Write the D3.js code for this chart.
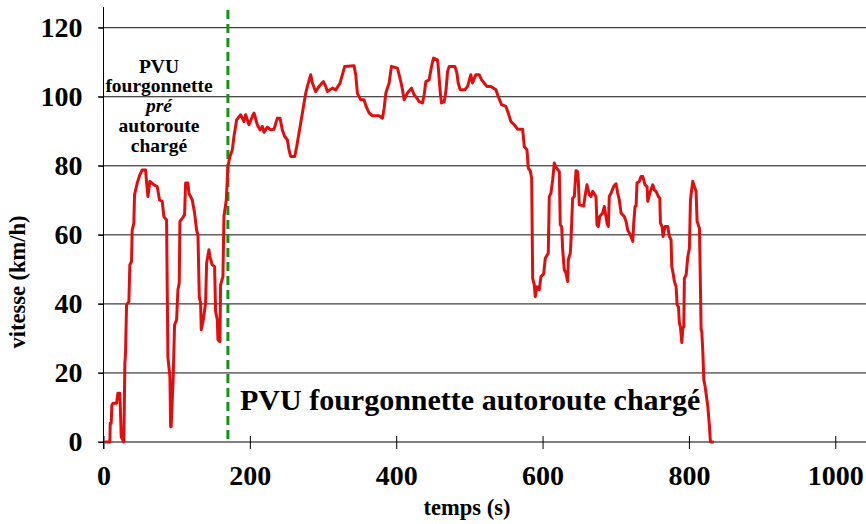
<!DOCTYPE html>
<html>
<head>
<meta charset="utf-8">
<script src="https://cdn.jsdelivr.net/npm/d3@7"></script>
<style>
  html, body { margin: 0; padding: 0; background: #fff; }
</style>
</head>
<body>
<svg id="chart" width="866" height="524"></svg>
<script>
// ---- data ----
const time = [2,8.7,9.2,10.5,11.5,13,17.8,19.6,22.3,23.3,24.2,27.8,29.2,30.1,31.5,34.7,36,38.3,39.2,41.5,42.4,46.1,49.7,52.9,57.5,58.4,60.7,63.4,68.9,73.4,76.6,80.3,82.5,86.2,88,90.8,91.7,92.5,95.3,97.1,99.9,101.7,103.5,104.4,107.6,110.8,112.2,115.4,116.7,121.3,124.5,127.2,129.1,130.9,132.7,133.6,136.4,139.5,140.9,144.1,145.4,148.6,151.8,153.2,155.5,156.4,159.1,160,163.2,164.6,167.8,170,
172.8,176,178.3,181.9,187.4,192,194.3,198.8,203.4,205.7,210.2,213.9,217.1,219.3,223.9,228.5,233,237.6,241.2,244.4,247.6,251.3,253.5,255.8,261.3,264,267.2,271.8,276.3,278.6,283.2,285.4,290,294.5,300.5,303.7,306,312.8,317.4,323.3,326.5,329.7,342.4,344.7,347,351.6,356.1,358.9,363,367.5,376.6,381.2,383.5,385.8,390.3,393.5,401.7,406.3,
408.6,410.8,415.4,420.9,424.5,428.2,431.4,435.9,438.2,440.5,445,448.3,451,456.5,457.8,460.1,461.9,465.6,467.9,470.2,472.4,480.2,482.9,484.7,487.5,493.8,497.5,502,504.3,508.9,513.4,516.7,520.2,523.9,529.4,536.3,539.4,544,549.9,553.1,556.8,561.3,565.9,572.8,
575,578.7,580.5,583.2,585.1,586.5,588.7,590,592.3,595.5,597.8,601.5,603.7,607.8,609.2,611.5,613.8,615.2,616,618.3,622.9,624.2,626.1,627.5,629.7,632,634.3,635.2,637.9,638.8,641.1,643.4,645.7,648,648.9,650.2,656.2,658,660.7,663.9,666.2,668.5,673,674.4,676.2,678.1,682.2,684.4,688.1,689.9,691.2,693.6,697.2,700.4,702.7,704.9,707.3,711.8,714.1,716.4,720,723.3,724.6,726.4,727.8,729.1,732.3,734.6,
736.9,740.1,742.8,743.8,746,747.4,750.6,752.8,755.1,758.3,760.2,761.1,763.3,764.7,767.4,771.1,773.3,775.6,776.6,778.4,780.2,782.5,783.9,785.7,787,788.4,790.3,791.7,793,793.8,796.2,798.5,800.7,802.1,804,805.3,807.5,809.8,811.2,814.4,816.7,817.6,819,820.4,822.2,825.9,828.1,829.4,834];

const speed = [0,0,5.4,5.4,10.7,11.2,11.2,14.1,14.1,8.3,1.5,0,22.8,25.7,39.7,40.7,51.3,52.3,61.4,63.4,71.6,75,77.4,78.8,78.8,76.4,71.1,75.5,74.5,74,70.1,69.7,65.3,64.3,24.7,18.9,4.4,4.4,18.9,33.9,35.4,44.1,46,63.9,64.8,65.8,75,75,72.1,70.1,66.3,61.4,60,42.1,40.2,32.5,35.4,40.2,51.8,55.7,53.7,51.3,50.8,37.8,35.4,29.6,29.1,45.5,47.9,65.3,70.1,79.8,
82.7,84.6,88.5,93.3,94.8,92.8,94.8,91.9,94.3,95.3,91.9,90.4,91.4,89.7,91.2,90.4,90.6,93.8,93.8,90.4,88.5,87.5,84.6,82.7,82.7,85.6,89.5,95.3,101,103,106.4,104,101.5,103,104.4,103,101.5,102.5,102,104,106.4,108.8,109,106.4,101,99.1,99.1,97.2,95.3,94.5,94.5,93.8,96.7,101,104,108.8,108.3,104.4,
102,99.1,101.1,102.5,100.6,99.6,98.6,98.2,100.6,104.4,104.9,108.8,111.2,110.7,107.8,101.5,98.2,98.6,101.5,107.3,108.8,108.8,106.9,104,102,102,103,106.4,104,106.4,106.4,104.9,104,103,103,102,100.1,97.7,97.2,95.3,92.8,91.9,90.6,90.6,
85.6,84.6,79.3,78.6,76.4,47.4,45.5,42.1,45,44.1,47.9,48.7,53.2,54.7,71.1,72.1,75.9,78.8,80.8,79.6,78.3,62.9,62.4,55.7,49.9,48.9,46.5,52.8,54.7,58.1,70.6,71.1,78.6,78.3,75.5,68.7,68.4,71.1,74.5,71.6,71.1,72.6,71.1,62.9,62.4,65.3,66.3,68.2,63.4,62.4,71.1,72.1,74,74.8,72.1,70.1,66.3,65.3,63.9,61.4,60,58.1,63.4,68.2,68.4,75,75.5,76.9,
76.9,74.5,74,69.7,71.6,72.6,74.5,73,72.6,71.1,70.6,63.4,62.4,59.5,62.4,62.4,59.5,58.6,50.8,48.9,46.5,45,39.7,39.2,34.4,33.4,28.8,33,33.4,47.4,48.4,53.7,56.1,70.1,73.5,75.5,74,72.6,63.9,61.9,32.5,32,26.2,18,16,10.2,4.4,0,0];

const xTicks = [0, 200, 400, 600, 800, 1000];
const yTicks = [0, 20, 40, 60, 80, 100, 120];
const markerTime = 170;
const leftNote = ["PVU", "fourgonnette", "pré", "autoroute", "chargé"];
const mainNote = "PVU fourgonnette autoroute chargé";
const xTitle = "temps (s)";
const yTitle = "vitesse (km/h)";

const FONT = '"Liberation Serif"';

// ---- chart ----
const svg = d3.select("#chart");
const x = d3.scaleLinear().domain([0, 1042]).range([103.5, 866]);
const y = d3.scaleLinear().domain([0, 126]).range([442, 7]);

// gridlines
svg.append("g").selectAll("line")
  .data(yTicks.filter(d => d > 0))
  .join("line")
  .attr("x1", 98).attr("x2", 866)
  .attr("y1", d => y(d)).attr("y2", d => y(d))
  .attr("stroke", "#111").attr("stroke-width", 1);

// y axis
const yAxis = svg.append("g")
  .attr("transform", `translate(${x(0)},0)`)
  .call(d3.axisLeft(y).tickValues(yTicks).tickSize(5).tickPadding(16).tickFormat(d3.format("d")));
yAxis.attr("font-family", FONT).attr("font-size", 28).attr("font-weight", "bold");
yAxis.select(".domain").attr("d", `M0,${y(126)}V${y(0) + 7}`).attr("stroke", "#000");
yAxis.selectAll("text").attr("font-family", FONT).attr("fill", "#000");

// x axis
const xAxis = svg.append("g")
  .attr("transform", `translate(0,${y(0)})`)
  .call(d3.axisBottom(x).tickValues(xTicks).tickSize(7).tickPadding(16).tickFormat(d3.format("d")));
xAxis.attr("font-family", FONT).attr("font-size", 28).attr("font-weight", "bold");
xAxis.select(".domain").attr("d", `M98,0H866`).attr("stroke", "#000");
xAxis.selectAll(".tick line").attr("y1", -6);
xAxis.selectAll("text").attr("font-family", FONT).attr("fill", "#000").attr("dy", "0.71em");
svg.selectAll(".tick line").attr("stroke", "#000");

// green dashed marker
svg.append("line")
  .attr("x1", x(markerTime)).attr("x2", x(markerTime))
  .attr("y1", 10).attr("y2", y(0))
  .attr("stroke", "#1a8f1a").attr("stroke-width", 3)
  .attr("stroke-dasharray", "9,5");

// speed trace
const pts = time.map((t, i) => [t, speed[i]]);
svg.append("path")
  .datum(pts)
  .attr("fill", "none")
  .attr("stroke", "#e00f0f")
  .attr("stroke-width", 3)
  .attr("stroke-linejoin", "round")
  .attr("d", d3.line().x(d => x(d[0])).y(d => y(d[1])));

// left note
const noteY = [73, 92, 112, 131.5, 151.5];
svg.append("g").selectAll("text")
  .data(leftNote)
  .join("text")
  .attr("x", 159).attr("y", (d, i) => noteY[i])
  .attr("text-anchor", "middle")
  .attr("font-family", FONT).attr("font-weight", "bold")
  .attr("font-size", 19.5)
  .attr("font-style", (d, i) => i === 2 ? "italic" : "normal")
  .text(d => d);

// main note
svg.append("text")
  .attr("x", 240).attr("y", 410)
  .attr("font-family", FONT).attr("font-weight", "bold")
  .attr("font-size", 30)
  .text(mainNote);

// axis titles
svg.append("text")
  .attr("x", 467).attr("y", 515)
  .attr("text-anchor", "middle")
  .attr("font-family", FONT).attr("font-weight", "bold")
  .attr("font-size", 22.5)
  .text(xTitle);
svg.append("text")
  .attr("transform", "translate(25,282) rotate(-90)")
  .attr("text-anchor", "middle")
  .attr("font-family", FONT).attr("font-weight", "bold")
  .attr("font-size", 22.5)
  .text(yTitle);
</script>
</body>
</html>
